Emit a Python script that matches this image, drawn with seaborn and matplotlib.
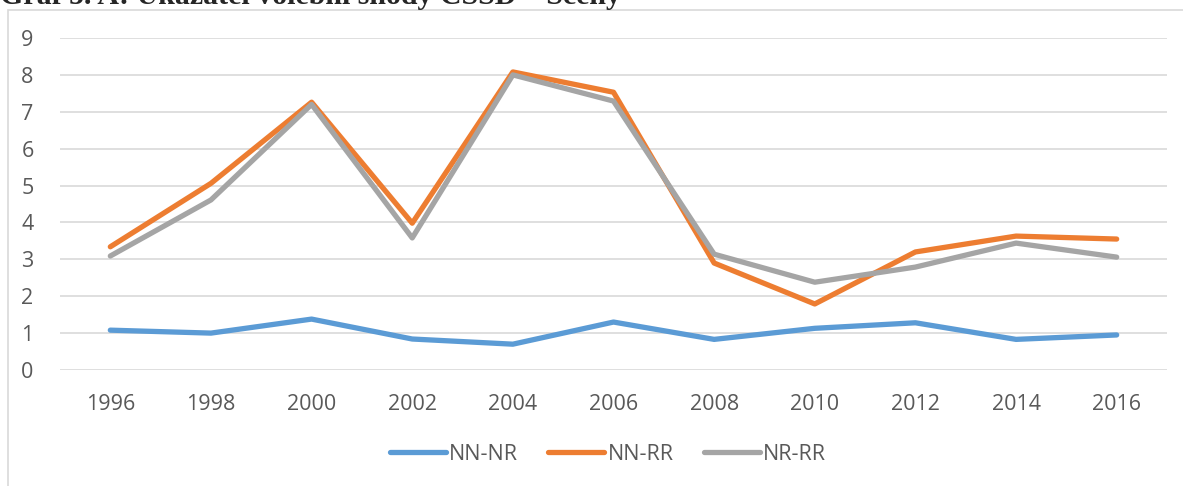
import numpy as np
import pandas as pd
import matplotlib
matplotlib.use('Agg')
import matplotlib.pyplot as plt
import seaborn as sns
from matplotlib.patches import Rectangle

years = ['1996', '1998', '2000', '2002', '2004', '2006', '2008', '2010', '2012', '2014', '2016']
nn_nr = [1.08, 1.00, 1.38, 0.84, 0.70, 1.30, 0.83, 1.13, 1.28, 0.83, 0.95]
nn_rr = [3.34, 5.06, 7.26, 3.98, 8.08, 7.53, 2.90, 1.79, 3.20, 3.63, 3.55]
nr_rr = [3.09, 4.61, 7.20, 3.58, 8.00, 7.29, 3.14, 2.38, 2.79, 3.44, 3.06]
series_names = ['NN-NR', 'NN-RR', 'NR-RR']
colors = ['#5B9BD5', '#ED7D31', '#A5A5A5']

df = pd.DataFrame({'year': years, 'NN-NR': nn_nr, 'NN-RR': nn_rr, 'NR-RR': nr_rr})
long_df = df.melt(id_vars='year', var_name='serie', value_name='value')

sns.set_style('white')
plt.rcParams['font.family'] = ['Open Sans', 'DejaVu Sans']

fig = plt.figure(figsize=(11.83, 4.86), dpi=100)
W, H = 1183, 486
ax = fig.add_axes([60 / W, 1 - 370 / H, (1167 - 60) / W, (370 - 38) / H])

# cornice del grafico (tagliata a destra e in basso)
fig.patches.append(Rectangle((8 / W, -0.1), 1.2, 1 - 10 / H + 0.1, transform=fig.transFigure,
                             fill=False, edgecolor='#D9D9D9', linewidth=1.2))

sns.lineplot(data=long_df, x='year', y='value', hue='serie', hue_order=series_names,
             palette=colors, linewidth=3.8, ax=ax, sort=False, legend=False)

ax.set_xlim(-0.5, len(years) - 0.5)
ax.set_ylim(0, 9)
ax.set_yticks(range(0, 10))
ax.yaxis.grid(True, color='#D9D9D9', linewidth=1.2)
ax.set_axisbelow(True)
for s in ax.spines.values():
    s.set_visible(False)
ax.tick_params(axis='both', length=0, labelsize=15.5, labelcolor='#595959')
ax.tick_params(axis='y', pad=19)
ax.tick_params(axis='x', pad=17)
ax.set_xlabel('')
ax.set_ylabel('')

handles = [plt.Line2D([], [], color=c, linewidth=3.8, solid_capstyle='round') for c in colors]
fig.legend(handles, series_names, loc='center', bbox_to_anchor=(0.514, 1 - 454 / H), ncol=3,
           frameon=False, fontsize=15.5, labelcolor='#595959', handlelength=2.6,
           handletextpad=0.15, columnspacing=1.4)

fig.text(0.0, 1 - 4 / H, 'Graf 5. A: Ukazatel volební shody ČSSD – Scény', fontsize=21.5,
         family='Liberation Serif', fontweight='bold', va='baseline', ha='left')

fig.savefig('out.png', dpi=100)
